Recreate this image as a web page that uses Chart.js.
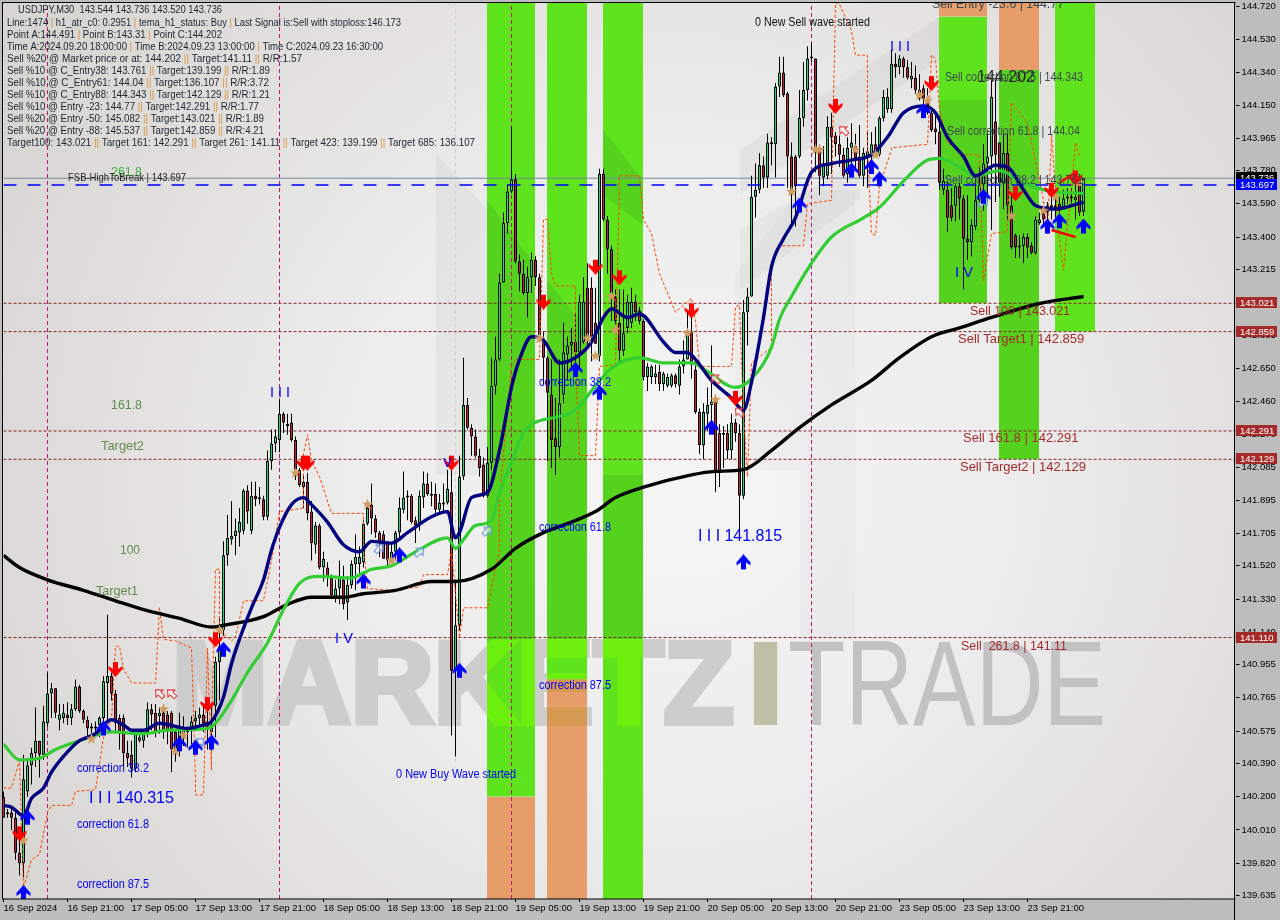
<!DOCTYPE html>
<html>
<head>
<meta charset="utf-8">
<title>USDJPY,M30</title>
<script src="https://cdn.jsdelivr.net/npm/chart.js@4"></script>
<style>
  html, body { margin: 0; padding: 0; background: #bdbdbd; overflow: hidden; }
  canvas { display: block; }
</style>
</head>
<body>
<canvas id="chart" width="1280" height="920"></canvas>
<script>
// candles (bar 0 = 16 Sep 13:00)
const opens = [140.20,140.10,140.11,140.08,139.88,139.82,140.23,140.38,140.45,140.52,140.44,140.62,140.79,140.82,140.64,140.65,140.67,140.65,140.70,140.83,140.69,140.64,140.59,140.59,140.61,140.65,140.85,140.89,140.79,140.65,140.65,140.45,140.44,140.36,140.52,140.52,140.57,140.70,140.68,140.66,140.68,140.67,140.68,140.57,140.51,140.58,140.59,140.58,140.63,140.65,140.67,140.63,140.57,140.72,140.97,141.15,141.58,141.67,141.69,141.71,141.72,141.95,141.72,141.92,141.90,141.90,141.80,142.12,142.22,142.24,142.39,142.33,142.34,142.24,142.07,141.97,142.00,141.83,141.64,141.75,141.51,141.51,141.45,141.34,141.39,141.44,141.31,141.41,141.53,141.53,141.54,141.76,141.87,141.79,141.71,141.70,141.65,141.56,141.60,141.71,141.84,141.91,141.92,141.78,141.75,141.91,141.99,141.93,141.93,141.84,141.88,141.88,141.94,140.92,141.18,142.03,142.44,142.31,142.26,142.15,142.10,141.92,142.11,142.55,142.70,143.14,143.48,143.66,143.73,143.26,143.19,143.08,143.17,143.27,143.17,142.82,142.71,142.50,142.25,142.20,142.50,142.73,142.78,142.80,142.74,142.80,143.11,143.11,142.91,142.72,143.76,143.50,143.33,143.06,142.91,142.75,142.88,142.91,143.03,142.98,142.92,142.60,142.60,142.60,142.63,142.56,142.55,142.55,142.61,142.55,142.66,142.70,142.86,142.64,142.40,142.21,142.39,142.44,142.46,142.28,142.28,142.28,142.18,142.34,142.28,141.92,142.97,143.06,143.63,143.67,143.81,143.74,143.93,143.93,144.26,144.34,144.22,143.86,143.86,143.86,144.08,144.24,144.42,144.42,143.91,143.74,143.75,144.03,143.98,143.93,143.87,143.76,143.91,143.92,143.86,143.75,143.86,143.87,143.93,143.87,144.08,144.13,144.13,144.39,144.37,144.42,144.37,144.30,144.31,144.24,144.25,144.19,144.11,144.02,144.00,143.67,143.67,143.58,143.58,143.69,143.62,143.39,143.37,143.46,143.61,143.70,143.82,143.86,144.06,143.94,143.71,143.88,143.58,143.41,143.34,143.35,143.40,143.35,143.31,143.48,143.54,143.58,143.58,143.57,143.59,143.57,143.62,143.62,143.61,143.71,143.544];
const closes = [140.08,140.11,140.08,139.88,139.82,140.30,140.38,140.45,140.52,140.44,140.63,140.79,140.82,140.68,140.67,140.68,140.65,140.70,140.83,140.69,140.64,140.59,140.60,140.60,140.65,140.86,140.89,140.79,140.62,140.56,140.45,140.42,140.36,140.56,140.54,140.57,140.70,140.67,140.57,140.68,140.58,140.58,140.47,140.45,140.58,140.55,140.57,140.63,140.65,140.67,140.62,140.60,140.61,140.97,141.06,141.58,141.68,141.69,141.72,141.77,141.95,141.83,141.92,141.90,141.90,141.80,142.12,142.22,142.26,142.39,142.34,142.32,142.24,142.07,141.98,142.00,141.82,141.65,141.75,141.51,141.56,141.45,141.35,141.39,141.45,141.30,141.41,141.53,141.57,141.57,141.76,141.85,141.79,141.71,141.65,141.56,141.55,141.60,141.71,141.85,141.91,141.92,141.77,141.75,141.92,141.99,141.93,141.92,141.84,141.88,141.87,141.96,140.92,141.18,142.03,142.44,142.31,142.26,142.15,142.08,141.92,142.11,142.55,142.70,143.14,143.48,143.66,143.73,143.26,143.19,143.08,143.17,143.27,143.17,142.84,142.71,142.51,142.24,142.20,142.45,142.74,142.78,142.80,142.74,143.03,143.03,142.82,142.83,142.79,143.76,143.50,143.33,143.08,142.92,142.75,142.85,143.03,143.03,142.97,142.92,142.60,142.66,142.66,142.62,142.56,142.62,142.60,142.61,142.56,142.66,142.70,142.86,142.68,142.40,142.21,142.40,142.44,142.46,142.05,142.05,142.27,142.18,142.34,142.28,141.92,142.97,143.06,143.63,143.67,143.81,143.74,143.94,143.94,144.26,144.34,144.21,143.86,143.67,143.69,144.08,144.24,144.42,144.42,143.91,143.75,143.81,144.03,143.97,143.93,143.87,143.75,143.91,143.94,143.85,143.75,143.88,143.89,143.93,143.88,144.08,144.20,144.20,144.39,144.37,144.42,144.37,144.31,144.32,144.24,144.19,144.19,144.11,144.01,144.00,143.71,143.72,143.51,143.51,143.69,143.62,143.39,143.37,143.47,143.61,143.70,143.82,143.86,144.20,143.87,143.71,143.88,143.58,143.34,143.34,143.35,143.40,143.34,143.31,143.50,143.50,143.50,143.54,143.57,143.58,143.57,143.62,143.63,143.62,143.63,143.54,143.736];
const highs = [140.23,140.13,140.14,140.11,139.98,140.44,140.41,140.48,140.71,140.52,140.72,140.91,140.85,140.82,140.73,140.73,140.74,140.73,140.87,140.84,140.70,140.66,140.62,140.63,140.66,140.89,141.24,140.91,140.81,140.67,140.67,140.52,140.52,140.58,140.58,140.58,140.74,140.73,140.73,140.71,140.73,140.69,140.69,140.58,140.68,140.66,140.60,140.66,140.69,140.71,140.72,140.73,140.73,141.00,141.22,141.66,141.81,141.89,141.79,141.85,141.96,141.98,142.00,142.00,141.97,141.92,142.18,142.30,142.30,142.47,142.40,142.39,142.39,142.26,142.08,142.04,142.05,141.89,141.77,141.76,141.60,141.54,141.47,141.44,141.55,141.52,141.46,141.55,141.70,141.63,141.78,141.88,141.99,141.81,141.72,141.72,141.66,141.65,141.72,141.91,142.06,141.95,141.93,141.80,141.95,142.06,142.05,142.00,141.99,141.93,141.99,142.07,142.07,141.44,142.15,142.71,142.48,142.33,142.30,142.19,142.14,142.20,142.71,142.83,143.19,143.54,143.70,144.03,143.76,143.30,143.27,143.23,143.31,143.29,143.19,142.86,142.72,142.70,142.48,142.70,142.91,142.83,142.88,142.97,143.07,143.17,143.25,143.17,143.11,143.79,143.79,143.52,143.35,143.10,143.10,143.10,143.07,143.11,143.07,143.00,142.93,142.68,142.67,142.67,142.67,142.63,142.62,142.62,142.62,142.70,142.81,142.98,143.01,142.70,142.42,142.45,142.54,142.78,142.50,142.33,142.32,142.33,142.39,142.36,142.33,143.04,143.11,143.75,143.82,143.88,143.86,143.99,143.97,144.28,144.43,144.43,144.23,143.94,143.87,144.24,144.40,144.49,144.51,144.42,143.93,143.92,144.09,144.11,144.00,143.98,143.91,143.97,144.05,143.99,144.04,143.91,144.00,144.00,144.03,144.09,144.24,144.25,144.47,144.45,144.44,144.43,144.41,144.40,144.38,144.33,144.27,144.25,144.14,144.10,144.09,143.79,143.72,143.68,143.70,143.71,143.64,143.64,143.50,143.75,143.80,143.93,143.99,144.30,144.30,143.94,143.99,143.99,143.64,143.42,143.41,143.42,143.42,143.37,143.52,143.54,143.57,143.60,143.65,143.63,143.63,143.67,143.68,143.68,143.72,143.76,143.736];
const lows = [140.08,140.08,140.01,139.84,139.75,139.74,140.20,140.27,140.37,140.31,140.41,140.60,140.65,140.65,140.58,140.62,140.61,140.61,140.69,140.68,140.62,140.55,140.54,140.55,140.54,140.57,140.62,140.75,140.57,140.47,140.37,140.37,140.31,140.34,140.51,140.48,140.54,140.58,140.54,140.56,140.53,140.50,140.34,140.40,140.43,140.49,140.48,140.50,140.58,140.61,140.57,140.47,140.46,140.54,140.75,141.12,141.52,141.64,141.58,141.63,141.70,141.76,141.70,141.86,141.87,141.78,141.78,142.07,142.17,142.17,142.28,142.27,142.23,142.01,141.97,141.85,141.78,141.55,141.59,141.50,141.43,141.40,141.34,141.31,141.30,141.27,141.21,141.39,141.38,141.46,141.51,141.75,141.70,141.68,141.57,141.56,141.52,141.54,141.55,141.68,141.82,141.78,141.76,141.65,141.72,141.85,141.92,141.86,141.82,141.82,141.82,141.87,140.55,140.43,141.15,142.01,142.30,142.15,142.14,142.03,141.91,141.91,142.07,142.50,142.69,143.14,143.42,143.65,143.25,143.09,143.07,142.94,143.08,143.12,142.82,142.56,142.12,142.08,142.04,142.14,142.45,142.58,142.64,142.66,142.65,142.79,142.77,142.69,142.79,142.69,143.49,143.19,142.92,142.87,142.69,142.72,142.85,142.88,142.92,142.90,142.58,142.52,142.56,142.56,142.52,142.52,142.54,142.54,142.54,142.50,142.62,142.70,142.59,142.39,142.16,142.13,142.29,142.30,141.94,141.97,142.08,142.13,142.13,142.23,141.72,141.90,142.78,143.06,143.51,143.65,143.68,143.68,143.81,143.74,144.20,144.20,143.68,143.48,143.46,143.85,144.03,144.18,144.40,143.77,143.64,143.69,143.73,143.76,143.86,143.80,143.74,143.71,143.80,143.78,143.74,143.69,143.68,143.79,143.86,143.86,144.06,144.11,144.11,144.31,144.33,144.31,144.30,144.25,144.22,144.18,144.12,144.10,144.00,143.93,143.67,143.64,143.43,143.49,143.49,143.50,143.10,143.27,143.29,143.44,143.60,143.55,143.60,143.44,143.60,143.63,143.56,143.50,143.33,143.28,143.28,143.25,143.28,143.30,143.30,143.47,143.47,143.42,143.50,143.51,143.54,143.56,143.59,143.59,143.50,143.52,143.52];

// moving averages, picked at the bars where the curve bends
const navyBars = [0,2,5,7,10,12,15,19,23,27,30,32,35,39,46,50,52,55,57,59,62,65,67,69,72,75,77,81,85,89,92,97,101,107,111,113,114,117,121,124,127,129,132,135,139,143,147,150,152,156,159,165,168,171,173,177,182,185,187,190,192,195,198,202,207,212,217,221,225,230,233,236,240,243,248,251,255,258,263,270];
const navyVals = [140.15,140.14,140.09,140.19,140.25,140.34,140.43,140.52,140.56,140.64,140.61,140.58,140.58,140.62,140.59,140.61,140.63,140.77,140.96,141.10,141.28,141.44,141.61,141.74,141.87,141.91,141.87,141.77,141.64,141.60,141.66,141.65,141.71,141.80,141.83,141.68,141.71,141.91,141.94,142.18,142.54,142.70,142.83,142.81,142.68,142.71,142.80,142.94,142.99,142.94,142.96,142.80,142.74,142.74,142.70,142.58,142.48,142.41,142.57,142.94,143.23,143.39,143.51,143.77,143.82,143.84,143.87,143.97,144.11,144.15,144.11,143.97,143.86,143.75,143.81,143.80,143.67,143.58,143.56,143.60];
const limeBars = [0,4,9,13,19,27,35,41,51,53,57,61,66,70,74,79,87,90,92,97,103,111,113,115,118,122,124,127,130,133,138,143,148,152,159,165,172,176,183,187,192,194,197,202,207,215,219,225,231,234,239,243,249,255,262,270];
const limeVals = [140.50,140.41,140.42,140.47,140.52,140.57,140.56,140.58,140.59,140.62,140.75,140.91,141.08,141.27,141.42,141.46,141.45,141.48,141.50,141.52,141.60,141.68,141.62,141.67,141.75,141.78,141.94,142.11,142.28,142.34,142.37,142.41,142.55,142.65,142.71,142.68,142.68,142.63,142.54,142.59,142.77,142.93,143.06,143.25,143.40,143.51,143.57,143.72,143.84,143.85,143.80,143.75,143.78,143.71,143.66,143.65];
const blackBars = [0,4,11,20,28,35,44,52,55,65,71,77,85,90,98,107,113,122,128,135,142,148,153,160,172,178,185,192,199,207,217,224,232,239,247,259,270];
const blackVals = [141.58,141.51,141.44,141.38,141.32,141.27,141.22,141.17,141.18,141.23,141.30,141.34,141.34,141.36,141.38,141.43,141.43,141.50,141.62,141.71,141.77,141.83,141.91,141.97,142.04,142.06,142.07,142.18,142.31,142.44,142.58,142.71,142.83,142.88,142.94,143.02,143.06];
const dashBars = [0,2,4,5,7,9,11,12,17,18,23,25,27,28,29,30,32,38,39,40,43,47,48,48,50,51,52,52,53,54,54,57,58,60,65,67,69,75,75,76,77,79,82,90,90,91,97,104,105,111,112,114,115,121,124,124,127,128,134,135,136,137,138,143,143,144,148,149,153,154,159,160,162,164,168,172,173,174,182,183,184,185,186,187,192,192,194,200,201,207,208,209,212,213,216,216,217,218,219,222,222,231,232,233,234,236,238,240,244,245,247,251,252,253,256,260,261,262,264,265,268,269];
const dashVals = [140.25,140.25,140.41,139.68,139.84,139.87,140.11,140.15,140.15,140.23,140.24,140.54,140.64,141.06,141.06,140.93,140.85,140.85,141.28,141.10,141.09,141.05,140.30,140.21,140.21,141.05,140.35,140.58,141.50,141.50,141.15,141.09,141.11,141.32,141.32,141.55,141.83,141.85,142.16,142.27,142.12,142.03,141.82,141.82,141.63,141.39,141.38,141.40,141.47,141.47,141.61,141.11,141.28,141.28,141.61,141.91,142.66,142.70,142.70,143.50,143.50,143.19,143.12,143.12,142.71,142.15,142.15,142.66,142.67,143.75,143.75,143.50,143.42,143.19,142.97,143.05,142.92,142.66,142.66,143.00,143.01,142.39,142.03,142.68,142.77,143.25,143.35,143.35,143.59,143.61,144.74,144.73,144.58,144.44,144.44,143.91,143.42,143.41,143.69,143.90,143.91,143.93,144.44,144.42,144.13,143.94,143.91,143.87,143.87,143.15,143.42,143.43,144.17,144.14,144.05,143.61,143.42,143.98,143.38,143.21,143.94,143.86];

// signal markers
const upBars = [5,6,25,44,48,52,55,90,99,114,143,149,177,185,199,212,217,219,230,245,261,264,270];
const upVals = [139.65,140.08,140.59,140.50,140.48,140.51,141.04,141.43,141.58,140.92,142.64,142.51,142.31,141.54,143.58,143.78,143.80,143.73,144.12,143.63,143.46,143.49,143.46];
const downBars = [4,28,51,53,75,76,112,135,148,154,172,183,208,232,253,262,268];
const downVals = [139.99,140.93,140.73,141.10,142.11,142.11,142.11,143.03,143.23,143.17,142.98,142.48,144.15,144.28,143.65,143.67,143.74];
const starBars = [5,22,40,43,45,54,73,91,97,134,146,148,152,153,171,178,197,203,204,213,218,229,231,252,260,263,269];
const starVals = [139.95,140.53,140.70,140.46,140.55,141.15,142.05,141.87,141.55,142.82,142.82,142.72,143.06,142.87,142.85,142.47,143.66,143.90,143.90,143.90,143.87,144.21,144.18,143.52,143.55,143.63,143.71];
const hollowRedBars = [39,42,178,184,210];
const hollowRedVals = [140.79,140.79,142.59,142.40,144.01];
const hollowBlueBars = [49,94,104,121,245];
const hollowBlueVals = [140.51,141.62,141.60,141.72,143.60];

// levels and the trade zones
const levelPrices = [143.021, 142.859, 142.291, 142.129, 141.11];
const levelTags = ["143.021", "142.859", "142.291", "142.129", "141.110"];
const highToBreak = 143.697;
const lastClose = 143.736;
const periodBars = [11, 69, 127, 202];
const zoneStart = [120.875,120.875,135.875,135.875,135.875,149.875,233.875,233.875,248.875,248.875,262.875];
const zoneEnd = [132.875,132.875,145.875,145.875,145.875,159.875,245.875,245.875,258.875,258.875,272.875];
const zoneTop = [144.738,140.20,144.738,140.87,140.61,144.738,144.738,144.66,144.738,144.355,144.738];
const zoneBottom = [140.20,139.615,140.87,140.61,139.615,139.615,144.66,143.021,144.355,142.129,142.859];
const zoneKind = ["green","orange","green","orange","orange","green","orange","green","orange","green","green"];

// axis labels
const priceTicks = [144.720,144.530,144.340,144.150,143.965,143.780,143.590,143.400,143.215,143.025,142.835,142.650,142.460,142.270,142.085,141.895,141.705,141.520,141.330,141.140,140.955,140.765,140.575,140.390,140.200,140.010,139.820,139.635];
const timeLabels = ["16 Sep 2024","16 Sep 21:00","17 Sep 05:00","17 Sep 13:00","17 Sep 21:00","18 Sep 05:00","18 Sep 13:00","18 Sep 21:00","19 Sep 05:00","19 Sep 13:00","19 Sep 21:00","20 Sep 05:00","20 Sep 13:00","20 Sep 21:00","23 Sep 05:00","23 Sep 13:00","23 Sep 21:00"];

const infoLines = [
  "Line:1474 | h1_atr_c0: 0.2951 | tema_h1_status: Buy | Last Signal is:Sell with stoploss:146.173",
  "Point A:144.491 | Point B:143.31 | Point C:144.202",
  "Time A:2024.09.20 18:00:00 | Time B:2024.09.23 13:00:00 | Time C:2024.09.23 16:30:00",
  "Sell %20 @ Market price or at: 144.202 || Target:141.11 || R/R:1.57",
  "Sell %10 @ C_Entry38: 143.761 || Target:139.199 || R/R:1.89",
  "Sell %10 @ C_Entry61: 144.04 || Target:136.107 || R/R:3.72",
  "Sell %10 @ C_Entry88: 144.343 || Target:142.129 || R/R:1.21",
  "Sell %10 @ Entry -23: 144.77 || Target:142.291 || R/R:1.77",
  "Sell %20 @ Entry -50: 145.082 || Target:143.021 || R/R:1.89",
  "Sell %20 @ Entry -88: 145.537 || Target:142.859 || R/R:4.21",
  "Target100: 143.021 || Target 161: 142.291 || Target 261: 141.11 || Target 423: 139.199 || Target 685: 136.107"
];
const infoWidths = [394, 215, 376, 295, 263, 262, 263, 252, 257, 257, 468];

// text, x, y, font px, colour, fitted width
const BLUE = "#0000ff", BRICK = "#a52a2a", SLATE = "#3c4a50", OLIVE = "#5f8a4f";
const chartLabels = [
  ["261.8", 111, 172, 13, "#45b045", 31],
  ["161.8", 111, 405, 13, OLIVE, 31],
  ["Target2", 101, 446, 13, OLIVE, 43],
  ["100", 120, 550, 13, OLIVE, 20],
  ["Target1", 96, 591, 13, OLIVE, 42],
  ["FSB-HighToBreak | 143.697", 68, 178, 11, "#222222", 118],
  ["correction 38.2", 539, 383, 12, BLUE, 72],
  ["correction 61.8", 539, 528, 12, BLUE, 72],
  ["correction 87.5", 539, 686, 12, BLUE, 72],
  ["correction 38.2", 77, 769, 12, BLUE, 72],
  ["correction 61.8", 77, 825, 12, BLUE, 72],
  ["correction 87.5", 77, 885, 12, BLUE, 72],
  ["0 New Buy Wave started", 396, 775, 12, BLUE, 120],
  ["0 New Sell wave started", 755, 23, 12, "#111111", 115],
  ["I I I 140.315", 89, 798, 17, BLUE, 85],
  ["I I I 141.815", 698, 536, 17, BLUE, 84],
  ["I V", 335, 639, 15, BLUE, 18],
  ["I V", 955, 273, 15, BLUE, 18],
  ["I I I", 270, 393, 15, BLUE, 20],
  ["I I I", 890, 47, 15, BLUE, 20],
  ["V", 443, 463, 13, BLUE, 10],
  ["Sell Entry -23.6 | 144.77", 932, 4, 13, SLATE, 132],
  ["Sell correction 87.5 | 144.343", 945, 77, 13, SLATE, 138],
  ["144.202", 977, 77, 17, "#2a2a2a", 58],
  ["Sell correction 61.8 | 144.04", 947, 131, 13, SLATE, 133],
  ["Sell correction 38.2 | 143.761", 945, 180, 13, SLATE, 138],
  ["Sell 100 | 143.021", 970, 311, 13, BRICK, 100],
  ["Sell Target1 | 142.859", 958, 339, 13, BRICK, 127],
  ["Sell 161.8 | 142.291", 963, 438, 13, BRICK, 123],
  ["Sell Target2 | 142.129", 960, 467, 13, BRICK, 126],
  ["Sell  261.8 | 141.11", 961, 646, 13, BRICK, 106]
];

const SANS = '"Liberation Sans", Arial, sans-serif';

// faint logo shapes behind the chart: polygon points and darkness
const logoShapes = [
  [[[436,153],[487,210],[487,475],[436,475]], 0.035],
  [[[735,275],[800,190],[855,190],[855,640],[800,640],[800,470],[735,470]], 0.025],
  [[[740,150],[939,17],[939,60],[740,195]], 0.04],
  [[[740,230],[860,160],[860,200],[740,290]], 0.03]
];
// the same logo showing through the green zones
const zoneShades = [
  [[487,200],[535,265],[535,640],[487,640]],
  [[547,280],[587,330],[587,640],[547,640]],
  [[603,475],[643,475],[643,640],[603,640]],
  [[603,130],[643,180],[643,225],[603,195]],
  [[939,100],[987,100],[999,60],[1039,60],[1039,459],[999,459],[987,303],[939,303]]
];
const zonePaint = {
  green: { base: "#5ee31c", shade: "rgba(0,70,50,0.10)", mark: "#6ef00f", markI: "#6ef00f" },
  orange: { base: "#e69d69", shade: null, mark: "#d69a52", markI: "#d69a52" }
};

function markerCanvas(w, h, paint) {
  const c = document.createElement("canvas");
  c.width = w;
  c.height = h;
  paint(c.getContext("2d"));
  return c;
}

function arrowMarker(color, pointsUp) {
  return markerCanvas(15, 16, function (g) {
    if (!pointsUp) {
      g.translate(0, 16);
      g.scale(1, -1);
    }
    g.fillStyle = color;
    g.beginPath();
    [[7.5,0],[14.5,8],[14.5,11],[10,8],[10,15],[5,15],[5,8],[0.5,11],[0.5,8]].forEach(function (p, i) {
      i ? g.lineTo(p[0], p[1]) : g.moveTo(p[0], p[1]);
    });
    g.closePath();
    g.fill();
  });
}

function starMarker() {
  return markerCanvas(13, 13, function (g) {
    g.fillStyle = "#cf9d62";
    g.beginPath();
    for (let i = 0; i < 10; i++) {
      const r = i % 2 ? 2.4 : 6;
      const a = -Math.PI / 2 + (i * Math.PI) / 5;
      g.lineTo(6.5 + r * Math.cos(a), 6.5 + r * Math.sin(a));
    }
    g.closePath();
    g.fill();
  });
}

function hollowMarker(color, turn) {
  return markerCanvas(13, 13, function (g) {
    g.translate(6.5, 6.5);
    g.rotate(turn);
    g.strokeStyle = color;
    g.fillStyle = "rgba(255,255,255,0.5)";
    g.beginPath();
    [[0,-5.5],[5,0],[2,0],[2,5.5],[-2,5.5],[-2,0],[-5,0]].forEach(function (p, i) {
      i ? g.lineTo(p[0], p[1]) : g.moveTo(p[0], p[1]);
    });
    g.closePath();
    g.fill();
    g.stroke();
  });
}

function pairs(bars, vals) {
  return bars.map(function (b, i) {
    return { x: b, y: vals[i] };
  });
}

function lineSet(data, color, width, dash, order) {
  return {
    type: "line",
    data: data,
    borderColor: color,
    borderWidth: width,
    borderDash: dash,
    pointRadius: 0,
    tension: 0,
    fill: false,
    order: order
  };
}

function curveSet(data, color, width, order) {
  const set = lineSet(data, color, width, [], order);
  set.cubicInterpolationMode = "monotone";
  return set;
}

function markerSet(data, style, order) {
  return {
    type: "line",
    data: data,
    showLine: false,
    pointStyle: style,
    pointRadius: 6,
    order: order
  };
}

const upColor = "#10e080";
const downColor = "#d01a3c";
const lastBar = 308;
const yMin = 139.615;
const yMax = 144.738;

const datasets = [
  {
    label: "wicks",
    data: highs.map(function (h, i) { return { x: i, y: [lows[i], h] }; }),
    backgroundColor: "#000000",
    barThickness: 1,
    grouped: false,
    inflateAmount: 0,
    clip: false,
    order: 21
  },
  {
    label: "bodies",
    data: opens.map(function (o, i) { return { x: i, y: [o, closes[i]] }; }),
    backgroundColor: opens.map(function (o, i) { return closes[i] >= o ? upColor : downColor; }),
    borderColor: "#000000",
    borderWidth: 1,
    borderSkipped: false,
    barThickness: 3,
    minBarLength: 2,
    grouped: false,
    inflateAmount: 0,
    clip: false,
    order: 20
  }
];

levelPrices.forEach(function (p) {
  datasets.push(lineSet([{ x: 0, y: p }, { x: lastBar, y: p }], "#8b2323", 1, [3, 2], 30));
});
periodBars.forEach(function (b) {
  datasets.push(lineSet([{ x: b, y: yMin }, { x: b, y: yMax }], "#c0147a", 1, [4, 3], 31));
});
datasets.push(lineSet([{ x: 113, y: 140.4 }, { x: 113, y: yMax }], "#d0d0d0", 1, [4, 3], 32));
datasets.push(lineSet([{ x: 0, y: lastClose }, { x: lastBar, y: lastClose }], "#77889a", 1, [], 30));
datasets.push(lineSet([{ x: 0, y: highToBreak }, { x: lastBar, y: highToBreak }], "#0000ff", 1.5, [13, 11], 15));
datasets.push(lineSet(pairs(dashBars, dashVals), "#ff4500", 1, [3, 2], 14));
datasets.push(curveSet(pairs(blackBars, blackVals), "#000000", 3.4, 13));
datasets.push(curveSet(pairs(limeBars, limeVals), "#32cd32", 3.2, 12));
datasets.push(curveSet(pairs(navyBars, navyVals), "#000080", 3.4, 11));
datasets.push(lineSet([{ x: 262, y: 143.44 }, { x: 268, y: 143.40 }], "#ff0000", 2.5, [], 10));
datasets.push(lineSet([{ x: 264, y: 143.71 }, { x: 268, y: 143.77 }], "#ff0000", 2.5, [], 10));
datasets.push(markerSet(pairs(starBars, starVals), starMarker(), 5));
datasets.push(markerSet(pairs(upBars, upVals), arrowMarker("#0000ff", true), 4));
datasets.push(markerSet(pairs(downBars, downVals), arrowMarker("#ff0000", false), 4));
datasets.push(markerSet(pairs(hollowRedBars, hollowRedVals), hollowMarker("#e03030", -0.8), 4));
datasets.push(markerSet(pairs(hollowBlueBars, hollowBlueVals), hollowMarker("#5a8fe0", 0.8), 4));

function drawWatermark(ctx, heavy, block, thin) {
  ctx.save();
  ctx.textBaseline = "alphabetic";
  ctx.fillStyle = heavy;
  ctx.strokeStyle = heavy;
  ctx.lineWidth = 6;
  ctx.font = "bold 116px " + SANS;
  ctx.fillText("MARKETZ", 172, 723, 562);
  ctx.strokeText("MARKETZ", 172, 723, 562);
  ctx.fillStyle = block;
  ctx.save();
  ctx.translate(743, 725);
  ctx.scale(1.35, 1);
  ctx.font = "bold 120px " + SANS;
  ctx.fillText("I", 0, 0);
  ctx.restore();
  ctx.fillStyle = thin;
  ctx.font = "120px " + SANS;
  ctx.fillText("TRADE", 788, 725, 318);
  ctx.restore();
}

function tracePolygon(ctx, points) {
  ctx.beginPath();
  points.forEach(function (p, i) {
    i ? ctx.lineTo(p[0], p[1]) : ctx.moveTo(p[0], p[1]);
  });
  ctx.closePath();
}

function drawInfoLine(ctx, line, x, y, width) {
  ctx.save();
  ctx.translate(x, y);
  ctx.scale(width / ctx.measureText(line).width, 1);
  let at = 0;
  line.split(/(\|+)/).forEach(function (piece) {
    ctx.fillStyle = piece.charAt(0) === "|" ? "#d9953a" : "#1c2430";
    ctx.fillText(piece, at, 0);
    at += ctx.measureText(piece).width;
  });
  ctx.restore();
}

const backdrop = {
  id: "backdrop",
  beforeDraw(chart) {
    const { ctx, chartArea: a } = chart;
    ctx.save();
    ctx.fillStyle = "#bdbdbd";
    ctx.fillRect(0, 0, chart.width, chart.height);
    const bg = ctx.createRadialGradient(680, 480, 60, 680, 480, 760);
    bg.addColorStop(0, "#f4f4f4");
    bg.addColorStop(0.4, "#ececec");
    bg.addColorStop(1, "#d8d6d3");
    ctx.fillStyle = bg;
    ctx.fillRect(3, 3, a.right - 4, a.bottom - 3);
    logoShapes.forEach(function (shape) {
      ctx.fillStyle = "rgba(0,0,0," + shape[1] + ")";
      tracePolygon(ctx, shape[0]);
      ctx.fill();
    });
    drawWatermark(ctx, "#cdcdcd", "#bfbfa6", "#c2c2c2");
    ctx.restore();
  },
  beforeDatasetsDraw(chart) {
    const { ctx, scales: { x, y } } = chart;
    zoneStart.forEach(function (s, i) {
      const left = x.getPixelForValue(s);
      const top = y.getPixelForValue(zoneTop[i]);
      const right = x.getPixelForValue(zoneEnd[i]);
      const bottom = y.getPixelForValue(zoneBottom[i]);
      const paint = zonePaint[zoneKind[i]];
      ctx.save();
      ctx.beginPath();
      ctx.rect(left, top, right - left, bottom - top);
      ctx.clip();
      ctx.fillStyle = paint.base;
      ctx.fillRect(left, top, right - left, bottom - top);
      if (paint.shade) {
        ctx.fillStyle = paint.shade;
        zoneShades.forEach(function (shape) {
          tracePolygon(ctx, shape);
          ctx.fill();
        });
      }
      drawWatermark(ctx, paint.mark, paint.markI, paint.mark);
      ctx.restore();
    });
  },
  afterDatasetsDraw(chart) {
    const { ctx, chartArea: a, scales } = chart;
    ctx.save();
    ctx.beginPath();
    ctx.rect(3, 3, a.right - 4, a.bottom - 3);
    ctx.clip();
    ctx.textBaseline = "middle";
    ctx.textAlign = "left";
    chartLabels.forEach(function (l) {
      ctx.font = l[3] + "px " + SANS;
      ctx.fillStyle = l[4];
      ctx.fillText(l[0], l[1], l[2], l[5]);
    });
    ctx.font = "10.4px " + SANS;
    ctx.fillStyle = "#1c2430";
    ctx.fillText("USDJPY,M30  143.544 143.736 143.520 143.736", 18, 10.5, 204);
    infoLines.forEach(function (line, i) {
      drawInfoLine(ctx, line, 7, 23.5 + i * 12, infoWidths[i]);
    });
    ctx.restore();

    // frame
    ctx.save();
    ctx.fillStyle = "#000000";
    ctx.fillRect(2, 2, a.right - 2, 1);
    ctx.fillRect(2, 2, 1, a.bottom - 2);
    ctx.fillRect(a.right - 1.5, 2, 1, chart.height - 2);
    ctx.fillRect(2, a.bottom - 0.5, a.right - 2, 1);

    // price tags on the right axis
    ctx.font = "9.5px " + SANS;
    ctx.textBaseline = "middle";
    function tag(value, text, color) {
      const py = Math.round(scales.y.getPixelForValue(value));
      ctx.fillStyle = color;
      ctx.fillRect(1236, py - 6, 41, 11);
      ctx.fillStyle = "#ffffff";
      ctx.fillText(text, 1240, py);
    }
    tag(lastClose, "143.736", "#000000");
    tag(highToBreak, "143.697", "#0000ff");
    levelPrices.forEach(function (p, i) {
      tag(p, levelTags[i], "#a52a2a");
    });
    ctx.restore();
  }
};

new Chart(document.getElementById("chart"), {
  type: "bar",
  data: { datasets: datasets },
  plugins: [backdrop],
  options: {
    responsive: false,
    animation: false,
    events: [],
    layout: { autoPadding: false, padding: { left: 3.5, top: 3, right: 0, bottom: 0 } },
    plugins: { legend: { display: false }, tooltip: { enabled: false } },
    scales: {
      x: {
        type: "linear",
        min: 0,
        max: lastBar,
        offset: false,
        border: { display: false },
        grid: { offset: false, drawOnChartArea: false, tickLength: 3, tickColor: "#000000" },
        afterBuildTicks: function (s) {
          s.ticks = timeLabels.map(function (l, i) { return { value: i * 16 }; });
        },
        afterFit: function (s) {
          s.height = 21;
          s.paddingLeft = 0;
          s.paddingRight = 0;
        },
        ticks: {
          autoSkip: false,
          maxRotation: 0,
          minRotation: 0,
          align: "start",
          padding: 1,
          color: "#000000",
          font: { family: SANS, size: 9.5 },
          callback: function (v) { return timeLabels[v / 16]; }
        }
      },
      y: {
        position: "right",
        min: yMin,
        max: yMax,
        border: { display: false },
        grid: { drawOnChartArea: false, tickLength: 4, tickColor: "#000000" },
        afterBuildTicks: function (s) {
          s.ticks = priceTicks.map(function (v) { return { value: v }; });
        },
        afterFit: function (s) {
          s.width = 44.5;
          s.paddingTop = 0;
          s.paddingBottom = 0;
        },
        ticks: {
          autoSkip: false,
          padding: 2,
          color: "#000000",
          font: { family: SANS, size: 9.5 },
          callback: function (v) { return v.toFixed(3); }
        }
      }
    }
  }
});
</script>
</body>
</html>
